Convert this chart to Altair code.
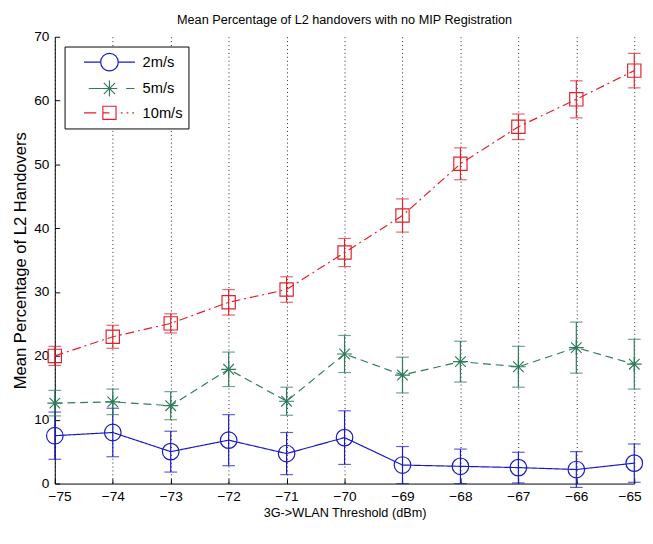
import altair as alt
import pandas as pd

thresholds = [-75, -74, -73, -72, -71, -70, -69, -68, -67, -66, -65]
series = ["2m/s", "5m/s", "10m/s"]

mean_2 = [7.5, 8.0, 5.0, 6.8, 4.7, 7.2, 2.9, 2.7, 2.5, 2.2, 3.2]
err_2 = [3.7, 3.8, 3.2, 4.0, 3.3, 4.2, 2.9, 2.7, 2.4, 2.8, 3.0]
mean_5 = [12.6, 12.8, 12.2, 17.9, 12.9, 20.3, 17.0, 19.1, 18.3, 21.3, 18.7]
err_5 = [2.0, 2.0, 2.2, 2.7, 2.2, 2.9, 2.8, 3.2, 3.2, 4.0, 3.9]
mean_10 = [20.0, 23.0, 25.1, 28.4, 30.4, 36.2, 42.0, 50.1, 55.9, 60.2, 64.7]
err_10 = [1.5, 1.8, 1.5, 2.0, 2.0, 2.2, 2.6, 2.5, 2.0, 2.9, 2.7]

y_ticks = [0, 10, 20, 30, 40, 50, 60, 70]
colors = ["#1818cc", "#2f7b5c", "#e2202a"]
dashes = [[1, 0], [8, 5], [9, 4, 2, 4]]

plot_shapes = [
    "circle",
    "M-0.9,0L0.9,0M0,-0.9L0,0.9M-0.64,-0.64L0.64,0.64M-0.64,0.64L0.64,-0.64",
    "M-0.8,-0.8L0.8,-0.8L0.8,0.8L-0.8,0.8Z",
]
legend_shapes = [
    "M-2.9,0L-1,0M1,0L2.9,0M-1,0A1,1,0,1,0,1,0A1,1,0,1,0,-1,0",
    "M-2.35,0L-0.9,0M1.9,0L2.85,0M-0.9,0L0.9,0M0,-0.9L0,0.9M-0.64,-0.64L0.64,0.64M-0.64,0.64L0.64,-0.64",
    "M-2.9,0L-1.5,0M-0.75,-0.75L0.75,-0.75L0.75,0.75L-0.75,0.75ZM-0.75,0L0,0M1.3,0L1.5,0M1.95,0L2.15,0M2.6,0L2.8,0",
]

rows = []
for name, means, errs in zip(series, [mean_2, mean_5, mean_10], [err_2, err_5, err_10]):
    for x, m, e in zip(thresholds, means, errs):
        rows.append({"Threshold": x, "Speed": name, "Mean": m, "Low": m - e, "High": m + e})
df = pd.DataFrame(rows)

FONT = "Liberation Sans"
W, H = 594, 458

xs = alt.Scale(domain=[-75, -65], nice=False, zero=False)
ys = alt.Scale(domain=[0, 70], nice=False, zero=False)

x_axis = alt.Axis(
    title="3G->WLAN Threshold (dBm)", values=thresholds, format="d",
    grid=True, gridDash=[1, 3], gridColor="#222222", gridWidth=1, gridOpacity=1,
    ticks=False, labelPadding=6, titlePadding=4, titleFontSize=13,
    labelFlush=True, labelFlushOffset=7,
)
y_axis = alt.Axis(
    title="Mean Percentage of L2 Handovers", values=y_ticks,
    grid=False, ticks=False, labelPadding=6, titlePadding=4, titleFontSize=17,
)

color_enc = alt.Color("Speed:N", scale=alt.Scale(domain=series, range=colors), legend=None)

base = alt.Chart(df)

lines = base.mark_line(strokeWidth=1.2).encode(
    x=alt.X("Threshold:Q", scale=xs, axis=x_axis),
    y=alt.Y("Mean:Q", scale=ys, axis=y_axis),
    color=color_enc,
    strokeDash=alt.StrokeDash("Speed:N", scale=alt.Scale(domain=series, range=dashes), legend=None),
    detail="Speed:N",
)

bars = base.mark_rule(strokeWidth=1.2).encode(
    x=alt.X("Threshold:Q", scale=xs, axis=x_axis),
    y=alt.Y("Low:Q", scale=ys, axis=y_axis),
    y2="High:Q",
    color=color_enc,
)

cap_lo = base.mark_tick(orient="horizontal", size=13, thickness=1.2).encode(
    x=alt.X("Threshold:Q", scale=xs, axis=x_axis),
    y=alt.Y("Low:Q", scale=ys, axis=y_axis),
    color=color_enc,
)
cap_hi = base.mark_tick(orient="horizontal", size=13, thickness=1.2).encode(
    x=alt.X("Threshold:Q", scale=xs, axis=x_axis),
    y=alt.Y("High:Q", scale=ys, axis=y_axis),
    color=color_enc,
)

points = base.mark_point(filled=False, size=289, strokeWidth=1.2, opacity=1).encode(
    x=alt.X("Threshold:Q", scale=xs, axis=x_axis),
    y=alt.Y("Mean:Q", scale=ys, axis=y_axis),
    color=color_enc,
    shape=alt.Shape("Speed:N", scale=alt.Scale(domain=series, range=plot_shapes), legend=None),
)

plot = alt.layer(lines, bars, cap_lo, cap_hi, points)

# legend + inward tick marks (secondary axes), no data drawn
legend_layer = base.transform_filter("datum.Threshold > 1000").mark_point(
    filled=False, strokeWidth=1.2
).encode(
    x=alt.X("Threshold:Q", scale=xs, axis=alt.Axis(
        orient="top", offset=-H, labels=False, domain=False, grid=False,
        ticks=True, tickSize=5, tickColor="black", tickWidth=1, title=None, values=thresholds)),
    y=alt.Y("Mean:Q", scale=ys, axis=alt.Axis(
        orient="right", offset=-W, labels=False, domain=False, grid=False,
        ticks=True, tickSize=5, tickColor="black", tickWidth=1, title=None, values=y_ticks,
        minExtent=0)),
    color=alt.Color("Speed:N", scale=alt.Scale(domain=series, range=colors),
                    legend=alt.Legend(title=None)),
    shape=alt.Shape("Speed:N", scale=alt.Scale(domain=series, range=legend_shapes),
                    legend=alt.Legend(title=None)),
)

chart = alt.layer(plot, legend_layer).resolve_scale(
    shape="independent", color="independent"
).resolve_axis(
    x="independent", y="independent"
).properties(
    width=W, height=H,
    padding={"left": 4, "top": 0, "right": 0, "bottom": 0},
    title=alt.TitleParams(
        "Mean Percentage of L2 handovers with no MIP Registration",
        fontSize=13, fontWeight="normal", font=FONT, color="black", offset=3,
    ),
).configure_view(
    stroke=None
).configure_axis(
    labelFont=FONT, titleFont=FONT, labelFontSize=14,
    labelColor="black", titleColor="black", titleFontWeight="normal",
    domainColor="black", domainWidth=1,
).configure_legend(
    orient="top-left", offset=10, padding=6,
    strokeColor="black", fillColor="white", strokeWidth=1,
    symbolOffset=30, labelOffset=24, rowPadding=4,
    symbolSize=324, symbolStrokeWidth=1.2, symbolOpacity=1,
    labelFont=FONT, labelFontSize=15, labelColor="black",
)

chart.save("out.html", embed_options={"renderer": "svg", "actions": False})
